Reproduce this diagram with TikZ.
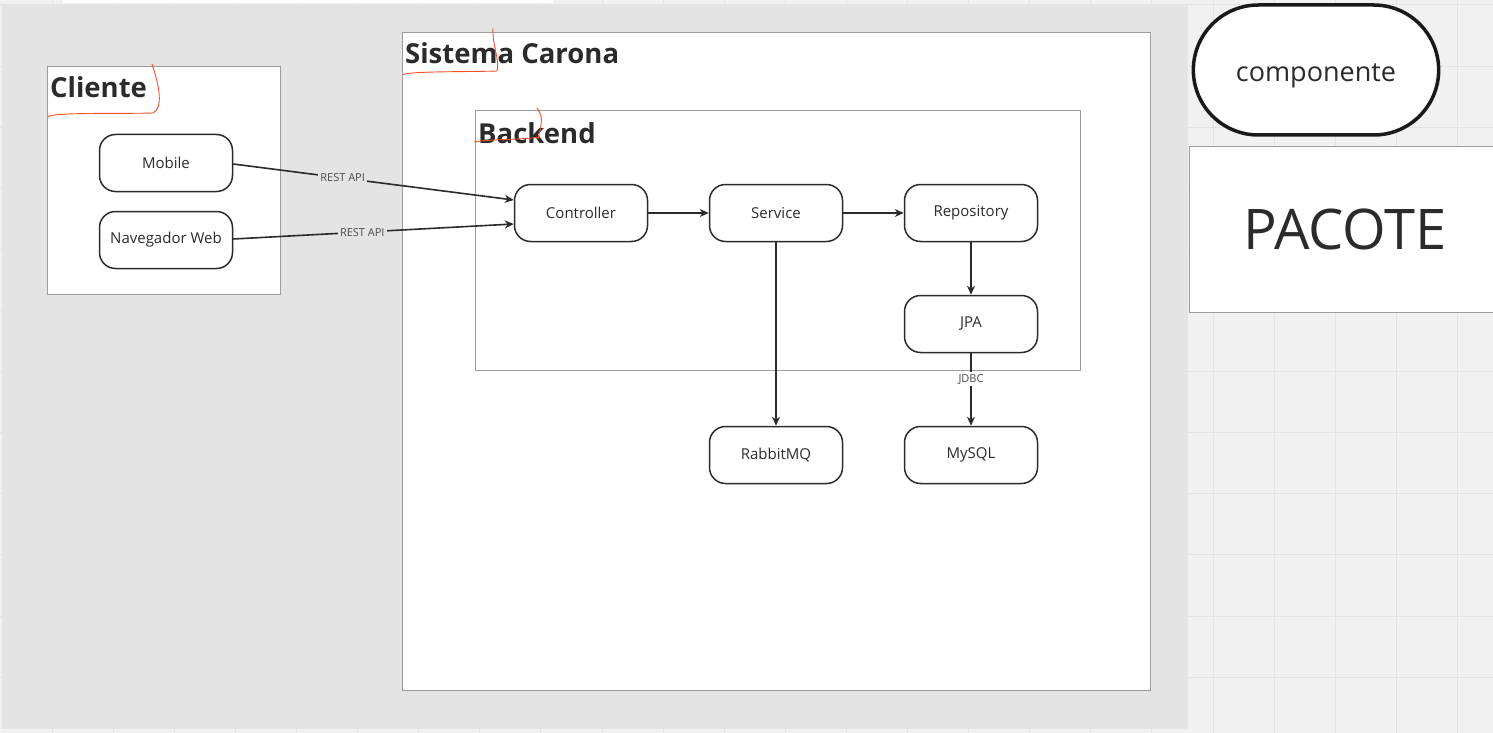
\documentclass[tikz,border=0pt]{standalone}
\usepackage{fontspec}
\setmainfont{Open Sans}
\usetikzlibrary{arrows.meta,shapes.misc}

\definecolor{canvas}{HTML}{F1F1F1}
\definecolor{gridc}{HTML}{E3E3E3}
\definecolor{frame}{HTML}{E4E4E4}
\definecolor{boxline}{HTML}{9C9C9C}
\definecolor{ink}{HTML}{2B2B2B}
\definecolor{labelc}{HTML}{4A4A4A}
\definecolor{pen}{HTML}{F0502A}

\tikzset{
  comp/.style={draw=ink, line width=1.5pt, rounded corners=16pt, fill=white,
    minimum width=133pt, minimum height=57pt, text=ink,
    font=\fontsize{15}{18}\selectfont},
  pack/.style={draw=boxline, line width=0.8pt, fill=white},
  title/.style={anchor=base west, text=ink, inner sep=0pt,
    font=\fontsize{27.5}{32}\selectfont\bfseries},
  link/.style={draw=ink, line width=1.6pt, -{Stealth[length=9pt,width=8pt]}},
  tag/.style={text=labelc, inner sep=2pt, font=\fontsize{11}{13}\selectfont},
  scribble/.style={draw=pen, line width=0.9pt}
}

\begin{document}
\begin{tikzpicture}[x=1pt, y=-1pt]
% Canvas and grid
\useasboundingbox (0,0) rectangle (1493,733);
\fill[canvas] (0,0) rectangle (1493,733);
\foreach \i in {-20,...,4} \draw[gridc, line width=1pt] (1213+61.1*\i,0) -- ++(0,733);
\foreach \i in {0,...,11} \draw[gridc, line width=1pt] (0,5+61.1*\i) -- ++(1493,0);
\fill[white] (63,0) rectangle (553,3);

% Grey frame
\fill[frame] (2,4) rectangle (1188,729);

% Packages
\draw[pack] (47,66) rectangle (280,294);
\draw[pack] (402,32) rectangle (1150,690);
\draw[pack] (475,110) rectangle (1080,370);
\draw[pack] (1189,146) rectangle (1500,312);

\node[title] (cliente) at (50,98) {Cliente};
\node[title] (sistema) at (405,64) {Sistema Carona};
\node[title] (backend) at (478,143) {Backend};

% Legend
\node[draw=black!90, line width=3.5pt, rounded rectangle, fill=white,
  minimum width=252pt, minimum height=130pt, text=ink,
  text height=24pt, text depth=0pt,
  font=\fontsize{27}{32}\selectfont] (legenda) at (1316,70) {componente};
\node[text=ink, font=\fontsize{56}{66}\selectfont] (pacote) at (1345,229) {PACOTE};

% Components
\node[comp] (mobile) at (166,163) {Mobile};
\node[comp] (navegador) at (166,240) {Navegador Web};
\node[comp] (controller) at (581,213) {Controller};
\node[comp] (service) at (776,213) {Service};
\node[comp] (repository) at (971,213) {Repository};
\node[comp] (jpa) at (971,324) {JPA};
\node[comp] (rabbit) at (776,455) {RabbitMQ};
\node[comp] (mysql) at (971,455) {MySQL};

% Connectors
\draw[link] ([yshift=-1pt]mobile.east) -- node[tag, fill=frame, pos=0.39] {REST API} ([yshift=13pt]controller.west);
\draw[link] ([yshift=1pt]navegador.east) -- node[tag, fill=frame, pos=0.46] {REST API} ([yshift=-11pt]controller.west);
\draw[link] (controller) -- (service);
\draw[link] (service) -- (repository);
\draw[link] (repository) -- (jpa);
\draw[link] (service) -- (rabbit);
\draw[link] (jpa) -- node[tag, fill=white, pos=0.36] {JDBC} (mysql);

% Red pen marks
\draw[scribble] (48,117) .. controls (50,112) and (120,114) .. (153,113) .. controls (163,108) and (160,88) .. (152,64);
\draw[scribble] (403,75) .. controls (405,71) and (470,72) .. (497,71) .. controls (500,60) and (492,45) .. (493,28);
\draw[scribble] (474,142) .. controls (490,139) and (520,140) .. (540,137);
\draw[scribble] (537,108) .. controls (545,118) and (540,128) .. (538,139);
\end{tikzpicture}
\end{document}
